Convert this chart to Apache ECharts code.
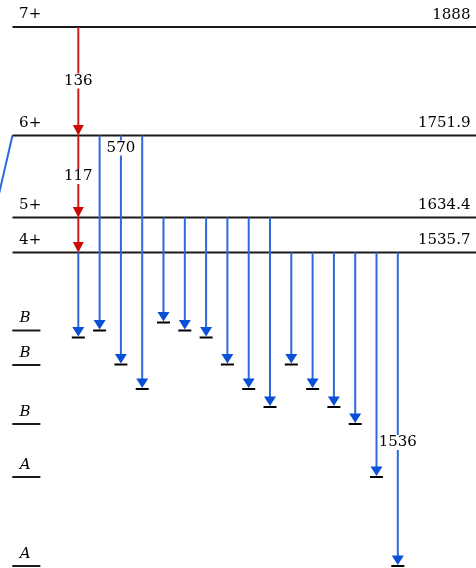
<!DOCTYPE html>
<html><head><meta charset="utf-8">
<script src="https://cdn.jsdelivr.net/npm/echarts@6/dist/echarts.min.js"></script>
<style>html,body{margin:0;padding:0;background:#fff}#c{width:476px;height:568px}</style>
</head><body><div id="c"></div>
<script>
// ---- data (scheme units: column index across, drawing height down) ----
const levelSpins = ['7+', '6+', '5+', '4+'];
const levelEnergies = ['1888', '1751.9', '1634.4', '1535.7'];
const levelY = [27, 135.5, 217.5, 252.5];

const bandLabels = ['B', 'B', 'B', 'A', 'A'];
const bandY = [330.5, 365, 424, 477, 566];

const cascadeLevels = [0, 1, 2, 3];
const cascadeLabels = ['136', '117', ''];
const cascadeLabelY = [81, 176.5, 0];

const transCol = [0, 1, 2, 3, 4, 5, 6, 7, 8, 9, 10, 11, 12, 13, 14, 15];
const transFrom = [3, 1, 1, 1, 2, 2, 2, 2, 2, 2, 3, 3, 3, 3, 3, 3];
const transEndY = [337.5, 330.5, 364.5, 389, 322.5, 330.5, 337.5, 364.5, 389, 407, 364.5, 389, 407, 424, 477, 566];
const transLabels = ['', '', '570', '', '', '', '', '', '', '', '', '', '', '', '', '1536'];
const transLabelY = [0, 0, 148, 0, 0, 0, 0, 0, 0, 0, 0, 0, 0, 0, 0, 442.5];

// ---- layout constants ----
const X_MIN = -3.676, X_MAX = 18.671;
const LEVEL_X0 = -3.09, SPIN_X = -2.78, ENERGY_X = 18.41;
const BAND_X0 = -3.1, BAND_X1 = -1.78, BAND_LABEL_X = -2.5;
const SLANT = [[-3.09, 135.5], [-3.95, 215]];
const FONT = '15px "DejaVu Serif"';
const IFONT = 'italic 15px "DejaVu Serif"';
const BLUE = '#2a6bdc', BLUE_HEAD = '#0a50d6', RED = '#d31b1b', RED_HEAD = '#cc0a0a', INK = '#1a1a1a', TEXT = '#000';

function levelItem(params, api) {
  const i = params.dataIndex;
  const a = api.coord([LEVEL_X0, levelY[i]]), b = api.coord([X_MAX, levelY[i]]);
  const s = api.coord([SPIN_X, levelY[i]]), e = api.coord([ENERGY_X, levelY[i]]);
  return { type: 'group', children: [
    { type: 'line', shape: { x1: a[0], y1: a[1], x2: b[0], y2: b[1] }, style: { stroke: INK, lineWidth: 2 } },
    { type: 'text', style: { text: levelSpins[i], x: s[0], y: s[1] - 12.5, font: FONT, fill: TEXT, align: 'left', verticalAlign: 'middle' } },
    { type: 'text', style: { text: levelEnergies[i], x: e[0], y: e[1] - 12, font: FONT, fill: TEXT, align: 'right', verticalAlign: 'middle' } }
  ] };
}

function bandItem(params, api) {
  const i = params.dataIndex;
  const a = api.coord([BAND_X0, bandY[i]]), b = api.coord([BAND_X1, bandY[i]]);
  const t = api.coord([BAND_LABEL_X, bandY[i]]);
  return { type: 'group', children: [
    { type: 'line', shape: { x1: a[0], y1: a[1], x2: b[0], y2: b[1] }, style: { stroke: INK, lineWidth: 2 } },
    { type: 'text', style: { text: bandLabels[i], x: t[0], y: t[1] - 12, font: IFONT, fill: TEXT, align: 'center', verticalAlign: 'middle' } }
  ] };
}

function slantItem(params, api) {
  const a = api.coord(SLANT[0]), b = api.coord(SLANT[1]);
  return { type: 'line', shape: { x1: a[0], y1: a[1], x2: b[0], y2: b[1] }, style: { stroke: BLUE, lineWidth: 2 } };
}

function cascadeItem(params, api) {
  const j = params.dataIndex;
  const top = api.coord([transCol[0], levelY[cascadeLevels[j]]]);
  const bot = api.coord([transCol[0], levelY[cascadeLevels[j + 1]]]);
  const x = top[0];
  return { type: 'group', children: [
    { type: 'line', shape: { x1: x, y1: top[1], x2: x, y2: bot[1] - 6 }, style: { stroke: RED, lineWidth: 2 } },
    { type: 'polygon', shape: { points: [[x, bot[1]], [x - 5.5, bot[1] - 10.5], [x + 5.5, bot[1] - 10.5]] }, style: { fill: RED_HEAD } }
  ] };
}

function transItem(params, api) {
  const k = params.dataIndex;
  const top = api.coord([transCol[k], levelY[transFrom[k]]]);
  const bot = api.coord([transCol[k], transEndY[k]]);
  const x = top[0], yb = bot[1];
  return { type: 'group', children: [
    { type: 'line', shape: { x1: x, y1: top[1], x2: x, y2: yb - 6 }, style: { stroke: BLUE, lineWidth: 2 } },
    { type: 'polygon', shape: { points: [[x, yb - 1], [x - 6, yb - 10.5], [x + 6, yb - 10.5]] }, style: { fill: BLUE_HEAD } },
    { type: 'line', shape: { x1: x - 6.5, y1: yb, x2: x + 6.5, y2: yb }, style: { stroke: '#000', lineWidth: 2 } }
  ] };
}

// label items: cascade labels then transition labels
const labelItems = [];
cascadeLabels.forEach((t, j) => { if (t) labelItems.push([transCol[0], cascadeLabelY[j], t]); });
transLabels.forEach((t, k) => { if (t) labelItems.push([transCol[k], transLabelY[k], t]); });

function labelItem(params, api) {
  const it = labelItems[params.dataIndex];
  const p = api.coord([it[0], it[1]]);
  return { type: 'text', z2: 10, style: { text: it[2], x: p[0], y: p[1], font: FONT, fill: TEXT, align: 'center', verticalAlign: 'middle', backgroundColor: '#fff', padding: [0, 0] } };
}

const chart = echarts.init(document.getElementById('c'));
chart.setOption({
  animation: false,
  backgroundColor: '#fff',
  grid: { left: 0, right: 0, top: 0, bottom: 0 },
  xAxis: { type: 'value', min: X_MIN, max: X_MAX, show: false },
  yAxis: { type: 'value', min: 0, max: 568, inverse: true, show: false },
  series: [
    { type: 'custom', renderItem: slantItem, data: [[0, 0]], clip: true, z: 1 },
    { type: 'custom', renderItem: levelItem, data: levelY.map((y, i) => [i, y]), z: 2 },
    { type: 'custom', renderItem: bandItem, data: bandY.map((y, i) => [i, y]), z: 2 },
    { type: 'custom', renderItem: transItem, data: transEndY.map((y, k) => [transCol[k], y]), z: 3 },
    { type: 'custom', renderItem: cascadeItem, data: cascadeLevels.slice(1).map((l, j) => [0, levelY[l]]), z: 4 },
    { type: 'custom', renderItem: labelItem, data: labelItems.map(it => [it[0], it[1]]), z: 5 }
  ]
});
</script>
</body></html>
